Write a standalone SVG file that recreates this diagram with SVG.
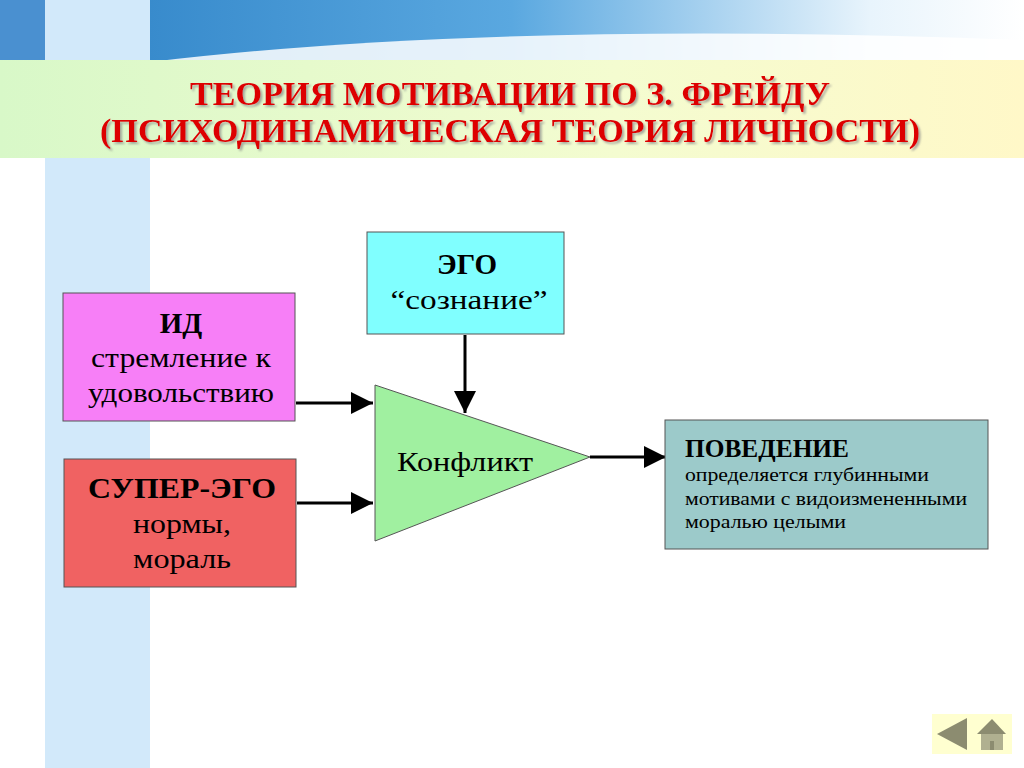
<svg xmlns="http://www.w3.org/2000/svg" width="1024" height="768" viewBox="0 0 1024 768">
<defs>
<linearGradient id="sky" x1="0" y1="0" x2="1" y2="0"><stop offset="0" stop-color="#2a7fc4"/><stop offset="0.5" stop-color="#5aa8e0"/><stop offset="0.85" stop-color="#e8f4fc"/><stop offset="1" stop-color="#ffffff"/></linearGradient>
<linearGradient id="band" x1="0" y1="0" x2="1" y2="0"><stop offset="0" stop-color="#d8f8c8"/><stop offset="0.6" stop-color="#f4fcd0"/><stop offset="1" stop-color="#fff8c8"/></linearGradient>
<marker id="ah2" viewBox="0 0 10 10" refX="10" refY="5" markerWidth="22" markerHeight="22" markerUnits="userSpaceOnUse" orient="auto"><path d="M0,0 L10,5 L0,10 z" fill="#000"/></marker>
<filter id="sh"><feDropShadow dx="2" dy="2" stdDeviation="1" flood-color="#888" flood-opacity="0.7"/></filter>
</defs>
<style>
.t{font-family:"Liberation Serif",serif;fill:#000}
.n{stroke:#555;stroke-width:1}
.c{stroke:#000;stroke-width:3;fill:none;marker-end:url(#ah2)}
.ti{font-family:"Liberation Serif",serif;font-weight:bold;fill:#dd0000;font-size:34px;filter:url(#sh)}
</style>
<rect width="1024" height="768" fill="#fff"/>
<rect x="0" y="0" width="1024" height="62" fill="url(#sky)"/>
<path d="M150,62 Q500,20 1024,40 L1024,62 Z" fill="#fff" opacity="0.85"/>
<rect x="0" y="0" width="45" height="62" fill="#4a90d0"/>
<rect x="45" y="0" width="105" height="768" fill="#d2e9fa"/>
<rect x="0" y="60" width="1024" height="98" fill="url(#band)"/>
<text class="ti" x="510" y="105" text-anchor="middle" textLength="640" lengthAdjust="spacingAndGlyphs">ТЕОРИЯ МОТИВАЦИИ ПО З. ФРЕЙДУ</text>
<text class="ti" x="510" y="142" text-anchor="middle" textLength="820" lengthAdjust="spacingAndGlyphs">(ПСИХОДИНАМИЧЕСКАЯ ТЕОРИЯ ЛИЧНОСТИ)</text>
<g id="connectors">
<line class="c" x1="296" y1="403" x2="373" y2="403"/>
<line class="c" x1="297" y1="503" x2="373" y2="503"/>
<line class="c" x1="465" y1="335" x2="465" y2="413"/>
<line class="c" x1="590" y1="457" x2="666" y2="457"/>
</g>
<g id="id">
<rect class="n" x="63" y="293" width="232" height="128" fill="#f77ff7"/>
<text class="t" x="181" y="333" text-anchor="middle" font-size="29" font-weight="bold">ИД</text>
<text class="t" x="181" y="367" text-anchor="middle" font-size="28" textLength="180" lengthAdjust="spacingAndGlyphs">стремление к</text>
<text class="t" x="181" y="402" text-anchor="middle" font-size="28" textLength="186" lengthAdjust="spacingAndGlyphs">удовольствию</text>
</g>
<g id="superego">
<rect class="n" x="64" y="459" width="232" height="128" fill="#f06262"/>
<text class="t" x="182" y="498" text-anchor="middle" font-size="29" font-weight="bold" textLength="188" lengthAdjust="spacingAndGlyphs">СУПЕР-ЭГО</text>
<text class="t" x="182" y="533" text-anchor="middle" font-size="28" textLength="98" lengthAdjust="spacingAndGlyphs">нормы,</text>
<text class="t" x="182" y="568" text-anchor="middle" font-size="28" textLength="98" lengthAdjust="spacingAndGlyphs">мораль</text>
</g>
<g id="ego">
<rect class="n" x="367" y="232" width="197" height="102" fill="#80ffff"/>
<text class="t" x="467" y="274" text-anchor="middle" font-size="29" font-weight="bold">ЭГО</text>
<text class="t" x="469" y="309" text-anchor="middle" font-size="28" textLength="157" lengthAdjust="spacingAndGlyphs">“сознание”</text>
</g>
<g id="conflict">
<polygon class="n" points="375,385 375,541 590,457" fill="#a0f0a0"/>
<text class="t" x="465" y="471" text-anchor="middle" font-size="28" textLength="136" lengthAdjust="spacingAndGlyphs">Конфликт</text>
</g>
<g id="behavior">
<rect class="n" x="665" y="420" width="323" height="129" fill="#9ccaca"/>
<text class="t" x="685" y="457" font-size="25" font-weight="bold" textLength="164" lengthAdjust="spacingAndGlyphs">ПОВЕДЕНИЕ</text>
<text class="t" x="685" y="481" font-size="19" textLength="244" lengthAdjust="spacingAndGlyphs">определяется глубинными</text>
<text class="t" x="685" y="505" font-size="19" textLength="282" lengthAdjust="spacingAndGlyphs">мотивами с видоизмененными</text>
<text class="t" x="685" y="528" font-size="19" textLength="161" lengthAdjust="spacingAndGlyphs">моралью целыми</text>
</g>
<g id="nav">
<rect x="932" y="714" width="80" height="40" fill="#ffffd0"/>
<polygon points="937,734 967,718 967,750" fill="#8c8c70"/>
<polygon points="977,734 992,719 1006,734" fill="#8c8c70"/>
<rect x="981" y="734" width="22" height="16" fill="#b0b090"/>
<rect x="990" y="741" width="4" height="9" fill="#8c8c70"/>
</g>
</svg>
